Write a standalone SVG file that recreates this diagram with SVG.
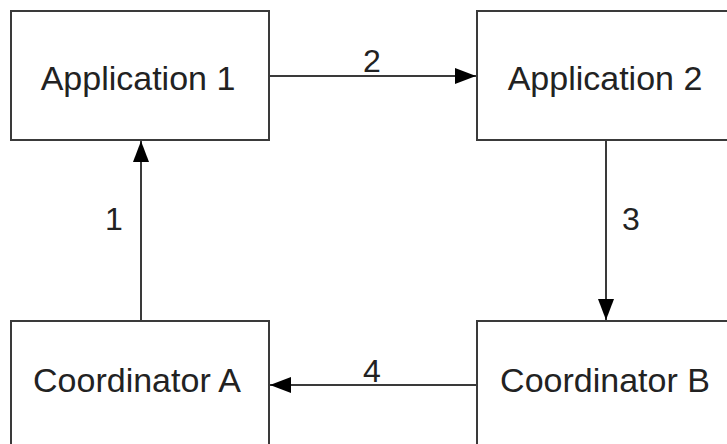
<svg xmlns="http://www.w3.org/2000/svg" width="727" height="444" viewBox="0 0 727 444">
<style>
.box{fill:#fff;stroke:#3a3a3a;stroke-width:2}
.lbl{font-family:"Liberation Sans",Arial,sans-serif;font-size:34px;fill:#222;text-anchor:middle}
.num{font-family:"Liberation Sans",Arial,sans-serif;font-size:32px;fill:#222;text-anchor:middle}
.edge{stroke:#3a3a3a;stroke-width:2;fill:none;marker-end:url(#ah)}
</style>
<defs>
<marker id="ah" markerUnits="userSpaceOnUse" markerWidth="22" markerHeight="16" refX="21" refY="8" orient="auto">
<path d="M0,0 L21,8 L0,16 Z" fill="#000"/>
</marker>
</defs>
<rect width="727" height="444" fill="#fff"/>
<g id="edges">
<line class="edge" x1="269" y1="76" x2="476" y2="76"/>
<line class="edge" x1="141" y1="321" x2="141" y2="141"/>
<line class="edge" x1="606" y1="140" x2="606" y2="320"/>
<line class="edge" x1="477" y1="385" x2="270" y2="385"/>
<text class="num" x="372" y="72">2</text>
<text class="num" x="114" y="230">1</text>
<text class="num" x="631" y="230">3</text>
<text class="num" x="372" y="382">4</text>
</g>
<g id="app1">
<rect class="box" x="11" y="11" width="258" height="129"/>
<text class="lbl" x="138" y="90">Application 1</text>
</g>
<g id="app2">
<rect class="box" x="477" y="11" width="258" height="129"/>
<text class="lbl" x="605" y="90">Application 2</text>
</g>
<g id="coordA">
<rect class="box" x="11" y="321" width="258" height="129"/>
<text class="lbl" x="137" y="392">Coordinator A</text>
</g>
<g id="coordB">
<rect class="box" x="477" y="321" width="258" height="129"/>
<text class="lbl" x="605" y="392">Coordinator B</text>
</g>
</svg>
